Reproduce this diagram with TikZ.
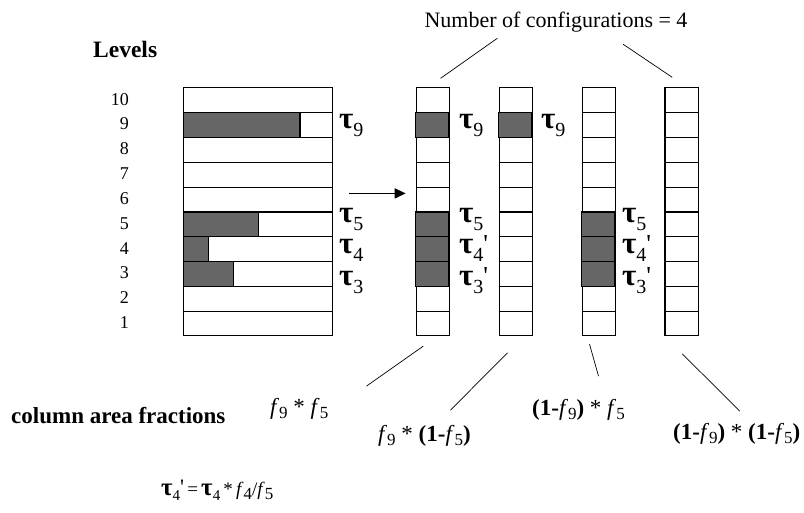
\documentclass[tikz,border=0pt]{standalone}
\usepackage{fontspec}
\setmainfont{Liberation Serif}
\usetikzlibrary{arrows.meta,calc,positioning}
\definecolor{barfill}{RGB}{102,102,102}
\newcommand{\rh}{24.83}
\newcommand{\tauL}[2]{{\fontsize{31}{31}\selectfont\bfseries τ}\raisebox{-8pt}{\fontsize{20}{20}\selectfont #1}#2}
\newcommand{\prm}{\raisebox{1pt}{\fontsize{26}{26}\selectfont\textquotesingle}}
\newcommand{\fv}[1]{\textit{f}\raisebox{-4pt}{\fontsize{17}{17}\selectfont #1}}

\begin{document}
\begin{tikzpicture}[x=1pt,y=-1pt,
  col/.style={draw,line width=1.1pt,inner sep=0pt,minimum height=248.3pt,anchor=north west},
  bar/.style={fill=barfill,draw,line width=1.1pt},
  cell/.style={line width=1.1pt},
  lvl/.style={anchor=base east,inner sep=0pt,font=\fontsize{18}{18}\selectfont},
  tl/.style={anchor=base west,inner sep=0pt},
  frac/.style={anchor=base west,inner sep=0pt,font=\fontsize{23}{23}\selectfont},
  lead/.style={line width=0.7pt}]
  \useasboundingbox (0,0) rectangle (804,512);
  % left column with the cloud fractions per level
  \node[col,minimum width=149pt] (bigcol) at (183.3,86.7) {};
  \foreach \l/\w in {9/116.7,5/75,4/25,3/50}
    \draw[bar] ($(bigcol.south west)+(0,-\l*\rh)$) rectangle ++(\w,\rh);
  \foreach \i in {1,...,9}
    \draw[cell] ($(bigcol.south west)+(0,-\i*\rh)$) -- ($(bigcol.south east)+(0,-\i*\rh)$);
  \foreach \l in {1,...,10}
    \node[lvl] (n\l) at (129,{335-(\l-0.5)*\rh+6}) {\l};
  \node[anchor=base west,inner sep=0pt,font=\fontsize{23.5}{23.5}\selectfont\bfseries] (levels) at (93,57) {Levels};
  % the four configurations
  \foreach \k in {1,...,4}
    \node[col,minimum width=33.3pt] (c\k) at ({415.7+(\k-1)*82.9},86.7) {};
  \foreach \k/\l in {1/9,1/5,1/4,1/3,2/9,3/5,3/4,3/3}
    \draw[bar] ($(c\k.south west)+(0,-\l*\rh)$) rectangle ++(33.3,\rh);
  \foreach \k in {1,...,4}
    \foreach \i in {1,...,9}
      \draw[cell] ($(c\k.south west)+(0,-\i*\rh)$) -- ($(c\k.south east)+(0,-\i*\rh)$);
  % optical depths
  \node[tl] (t9) at (339,128) {\tauL{9}{}};
  \node[tl] (t5) at (339,222) {\tauL{5}{}};
  \node[tl] (t4) at (339,253) {\tauL{4}{}};
  \node[tl] (t3) at (339,285) {\tauL{3}{}};
  \node[tl] (a9) at (459,128) {\tauL{9}{}};
  \node[tl] (a5) at (459,222) {\tauL{5}{}};
  \node[tl] (a4) at (459,253) {\tauL{4}{\prm}};
  \node[tl] (a3) at (459,285) {\tauL{3}{\prm}};
  \node[tl] (b9) at (541,128) {\tauL{9}{}};
  \node[tl] (d5) at (622,222) {\tauL{5}{}};
  \node[tl] (d4) at (622,253) {\tauL{4}{\prm}};
  \node[tl] (d3) at (622,285) {\tauL{3}{\prm}};
  \draw[-{Triangle[length=11pt,width=10pt]},line width=1.6pt] ($(bigcol.east)+(16,-18)$) -- ($(c1.west)+(-10,-18)$);
  % labels
  \node[font=\fontsize{22}{22}\selectfont] (conf) at (556,22) {Number of configurations = 4};
  \draw[lead] ($(c1.north)+(64.4,-48.4)$) -- ($(c1.north)+(7.7,-8.4)$);
  \draw[lead] ($(c4.north)+(-58.4,-42.4)$) -- ($(c4.north)+(-9.4,-9.4)$);
  \node[frac] (f1) at (270,414) {\fv{9} * \fv{5}};
  \node[frac] (f2) at (378,441) {\fv{9} * \textbf{(1-}\fv{5}\textbf{)}};
  \node[frac] (f3) at (532,415) {\textbf{(1-}\fv{9}\textbf{)} * \fv{5}};
  \node[frac] (f4) at (673,439) {\textbf{(1-}\fv{9}\textbf{)} * \textbf{(1-}\fv{5}\textbf{)}};
  \draw[lead] ($(c1.south)+(-9.6,10)$) -- ($(c1.south)+(-66.4,50)$);
  \draw[lead] ($(c2.south)+(-8.3,16.7)$) -- ($(c2.south)+(-65.3,74)$);
  \draw[lead] ($(c3.south)+(-9.2,8)$) -- ($(c3.south)+(-0.2,40)$);
  \draw[lead] ($(c4.south)+(0.6,17.7)$) -- ($(c4.south)+(58.2,75)$);
  \node[anchor=base west,inner sep=0pt,font=\fontsize{23}{23}\selectfont\bfseries] (caf) at (11,423) {column area fractions};
  \node[anchor=base west,inner sep=0pt,font=\fontsize{19}{19}\selectfont] (eq) at (161,495) {{\fontsize{25}{25}\selectfont\bfseries τ}\raisebox{-5pt}{\fontsize{15}{15}\selectfont 4}\raisebox{1pt}{\fontsize{22}{22}\selectfont\textquotesingle}\,=\,{\fontsize{25}{25}\selectfont\bfseries τ}\raisebox{-5pt}{\fontsize{15}{15}\selectfont 4}\,*\,\fv{4}/\fv{5}};
\end{tikzpicture}
\end{document}
